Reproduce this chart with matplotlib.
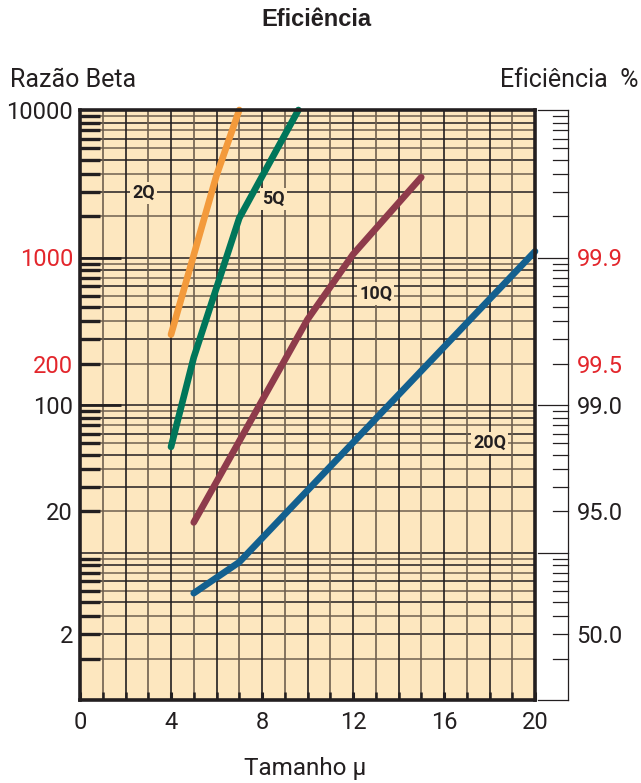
import numpy as np
import matplotlib
matplotlib.use("Agg")
import matplotlib.pyplot as plt
import matplotlib.transforms as mtransforms

# curve data (size in micron vs beta ratio)
x_2q = [4, 6, 7]
y_2q = [300, 3600, 10000]
x_5q = [4, 5, 7, 9.6]
y_5q = [52, 210, 1850, 10000]
x_10q = [5, 10, 12, 15]
y_10q = [16, 380, 1050, 3500]
x_20q = [5, 7, 20]
y_20q = [5.3, 8.6, 1100]

curve_names = ["2Q", "5Q", "10Q", "20Q"]
curve_colors = ["#F39A3B", "#00765A", "#8E3B4B", "#13608F"]
label_x = [2.8, 8.5, 13.0, 18.0]
label_y = [2750, 2500, 570, 55]

left_ticks = [10000, 1000, 190, 100, 19, 2.8]
left_labels = ["10000", "1000", "200", "100", "20", "2"]
left_colors = ["#231f20", "#E3262C", "#E3262C", "#231f20", "#231f20", "#231f20"]
right_ticks = [1000, 190, 100, 19, 2.8]
right_labels = ["99.9", "99.5", "99.0", "95.0", "50.0"]
right_colors = ["#E3262C", "#E3262C", "#231f20", "#231f20", "#231f20"]

paper = "#FDE7BF"
ink = "#231f20"
grey = "#6f604f"
font = "Roboto"

fig = plt.figure(figsize=(6.41, 7.83), dpi=100)
ax = fig.add_axes([80 / 641, 1 - 700 / 783, 455 / 641, 590 / 783])
ax.set_facecolor(paper)
ax.set_yscale("log")
ax.set_xlim(0, 20)
ax.set_ylim(1, 10000)

# log paper: each decade split into 10 equal steps
trans = mtransforms.blended_transform_factory(ax.transAxes, ax.transData)
for d in range(4):
    base = 10 ** d
    for k in range(1, 10):
        v = base * (1 + 0.9 * k)
        c = ink if k % 2 == 0 else grey
        ax.axhline(v, color=c, lw=1.1, zorder=1)
        ax.plot([0, 0.045], [v, v], color=ink, lw=2.4, transform=trans,
                zorder=2, solid_capstyle="butt")
    if d > 0:
        ax.axhline(base, color=ink, lw=1.1, zorder=1)
for v in [1000, 100]:
    ax.plot([0, 0.09], [v, v], color=ink, lw=2.0, transform=trans,
            zorder=2, solid_capstyle="butt")
for i in range(1, 20):
    c = ink if i % 2 == 0 else grey
    ax.axvline(i, color=c, lw=1.2, zorder=1)

# right hand efficiency ladder
for d in range(5):
    base = 10 ** d
    ax.plot([1.0066, 1.0725], [base, base], color=ink, lw=0.9,
            transform=trans, clip_on=False)
    if d < 4:
        for k in range(1, 10):
            v = base * (1 + 0.9 * k)
            ax.plot([1.0396, 1.0725], [v, v], color=ink, lw=0.9,
                    transform=trans, clip_on=False)
ax.plot([1.0725, 1.0725], [1, 10000], color=ink, lw=0.9,
        transform=trans, clip_on=False)

# curves
all_x = [x_2q, x_5q, x_10q, x_20q]
all_y = [y_2q, y_5q, y_10q, y_20q]
for xs, ys, col in zip(all_x, all_y, curve_colors):
    ax.plot(xs, ys, color=col, lw=4.8, solid_capstyle="round",
            solid_joinstyle="round", zorder=5, clip_on=False)
for name, lx, ly in zip(curve_names, label_x, label_y):
    ax.text(lx, ly, name, ha="center", va="center", fontsize=13,
            fontweight="bold", family=font, color=ink, zorder=6,
            bbox=dict(facecolor=paper, edgecolor="none", pad=1.5))

for s in ax.spines.values():
    s.set_linewidth(2.6)
    s.set_color(ink)
    s.set_zorder(7)

ax.set_xticks(range(0, 21, 4))
ax.set_xticks(range(0, 21), minor=True)
ax.tick_params(axis="x", which="both", direction="in", length=6, width=2.2,
               color=ink, labelsize=17, pad=8)
ax.tick_params(axis="x", which="minor", width=1.8)
for lab in ax.get_xticklabels():
    lab.set_family(font)
    lab.set_color(ink)

ax.set_yticks(left_ticks)
ax.set_yticklabels(left_labels)
ax.yaxis.set_minor_locator(matplotlib.ticker.NullLocator())
ax.tick_params(axis="y", which="both", length=0, labelsize=17, pad=5)
for lab, col in zip(ax.get_yticklabels(), left_colors):
    lab.set_family(font)
    lab.set_color(col)

ax2 = ax.twinx()
ax2.set_yscale("log")
ax2.set_ylim(1, 10000)
ax2.set_yticks(right_ticks)
ax2.set_yticklabels(right_labels)
ax2.yaxis.set_minor_locator(matplotlib.ticker.NullLocator())
ax2.tick_params(axis="y", length=0, labelsize=17, pad=30)
for s in ax2.spines.values():
    s.set_visible(False)
for lab, col in zip(ax2.get_yticklabels(), right_colors):
    lab.set_family(font)
    lab.set_color(col)

fig.text(316 / 641, 1 - 20 / 783, "Eficiência", ha="center", va="center",
         fontsize=17, fontweight="bold", family="Liberation Sans", color=ink)
fig.text(10 / 641, 1 - 80 / 783, "Razão Beta", ha="left", va="center",
         fontsize=18, family=font, color=ink)
fig.text(638 / 641, 1 - 80 / 783, "Eficiência  %", ha="right", va="center",
         fontsize=18, family=font, color=ink)
fig.text(305 / 641, 1 - 768 / 783, "Tamanho µ", ha="center", va="center",
         fontsize=17.5, family=font, color=ink)

fig.savefig("out.png", dpi=100)
